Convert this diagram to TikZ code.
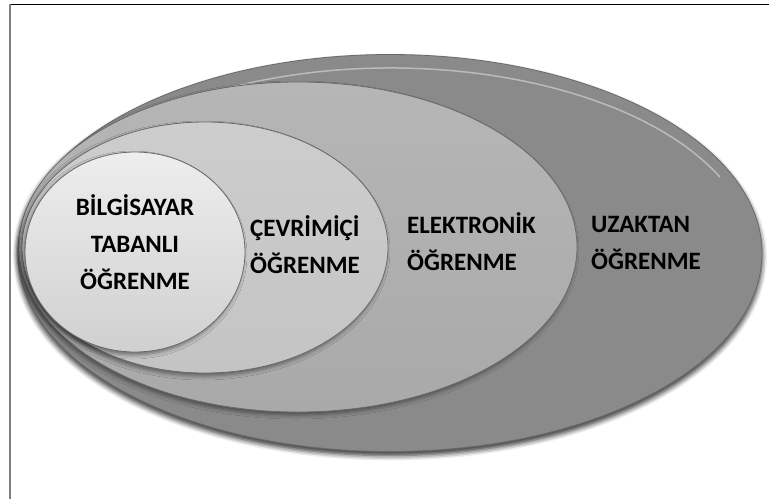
\documentclass[tikz,border=0pt]{standalone}
\usepackage{fontspec}
\setmainfont{Carlito}
\usetikzlibrary{shapes.geometric,shadows.blur}

\definecolor{edgegray}{HTML}{6A6A6A}
\definecolor{uzakgray}{HTML}{8A8A8A}
\definecolor{elekgray}{HTML}{A9A9A9}
\definecolor{cevrgray}{HTML}{C4C4C4}
\definecolor{bilggray}{HTML}{E2E2E2}

\begin{document}
\begin{tikzpicture}[
        x=1pt, y=-1pt,
        layer/.style ={ellipse, draw=edgegray, line width=.8pt, inner sep=0pt,
            blur shadow={shadow xshift=-2pt, shadow yshift=-3pt, shadow blur radius=4pt, shadow opacity=45}},
        lbl/.style ={font=\bfseries\fontsize{25}{37}\selectfont, text=black, inner sep=0pt},
    ]
    \useasboundingbox (0,0) rectangle (769,499);
    % frame
    \draw[black, line width=1pt] (10,4) -- (769,4);
    \draw[gray, line width=1.3pt] (10,4) -- (10,499);

    % nested sets
    \node[layer, fill=uzakgray, minimum width=744pt, minimum height=397pt,
          blur shadow={shadow xshift=0pt, shadow yshift=-4pt, shadow blur radius=5pt, shadow opacity=50}]
          (uzaktan) at (390,253) {};
    \draw[white!70!uzakgray, line width=1.5pt, opacity=.6]
        ([shift={(-25:363 and 189)}]391,257) arc[start angle=-25, end angle=-190, x radius=363, y radius=189];
    \node[layer, top color=elekgray!85!white, bottom color=elekgray, minimum width=558pt, minimum height=330pt]
          (elektronik) at (298,247) {};
    \node[layer, top color=cevrgray!85!white, bottom color=cevrgray, minimum width=366pt, minimum height=251pt]
          (cevrimici) at (205,247.5) {};
    \node[layer, top color=bilggray!60!white, bottom color=bilggray!92!black, minimum width=220pt, minimum height=200pt]
          (bilgisayar) at (135,252) {};

    % labels
    \node[lbl, align=center] (bilgisayarlbl) at (135,242) {BİLGİSAYAR\\TABANLI\\ÖĞRENME};
    \node[lbl, align=left, anchor=west] (cevrimicilbl) at (250,245) {ÇEVRİMİÇİ\\ÖĞRENME};
    \node[lbl, align=left, anchor=west] (elektroniklbl) at (407,242) {ELEKTRONİK\\ÖĞRENME};
    \node[lbl, align=left, anchor=west] (uzaktanlbl) at (591,243) {UZAKTAN\\ÖĞRENME};
\end{tikzpicture}
\end{document}
